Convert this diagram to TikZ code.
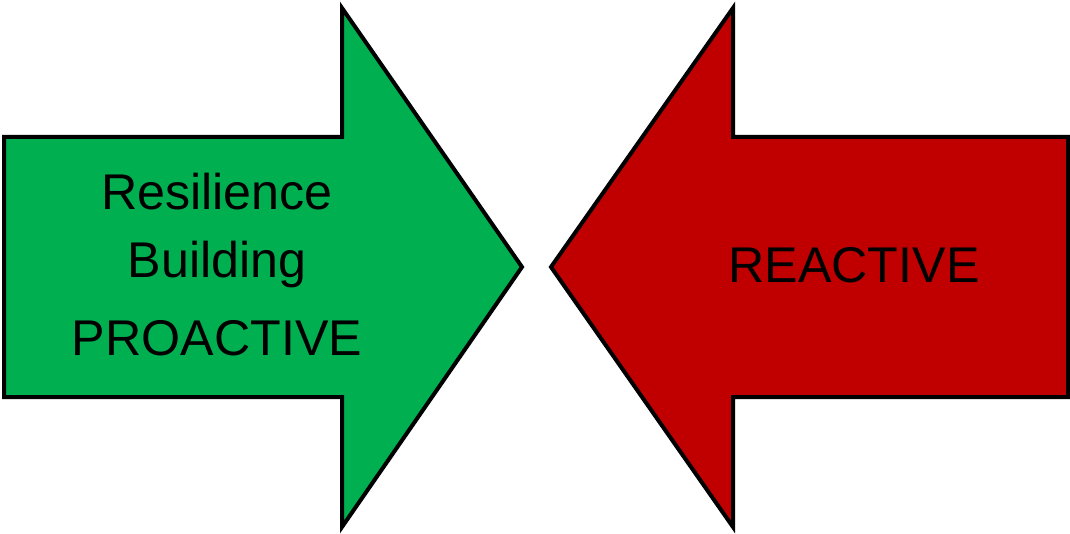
\documentclass[tikz,border=0pt]{standalone}
\usepackage{fontspec}
\setmainfont{Liberation Sans}
\definecolor{arrgreen}{HTML}{00B050}
\definecolor{arrred}{HTML}{C00000}
\begin{document}
\begin{tikzpicture}[x=1pt,y=-1pt,
  arrowshape/.style={draw=black,line width=4pt,line join=miter},
  lbl/.style={font=\fontsize{50.2}{73}\selectfont,align=center,text=black,inner sep=0pt}]
\useasboundingbox (0,0) rectangle (1070,534);
\draw[arrowshape,fill=arrgreen] (4,137) -- (342,137) -- (342,8) -- (522,267) -- (342,527) -- (342,397) -- (4,397) -- cycle;
\draw[arrowshape,fill=arrred] (1068,137) -- (733,137) -- (733,8) -- (551,267) -- (733,527) -- (733,397) -- (1068,397) -- cycle;
\node[lbl] (g1) at (217,192) {Resilience};
\node[lbl] (g2) at (217,265) {Building};
\node[lbl] (g3) at (217,338) {PROACTIVE};
\node[lbl] (r1) at (854,265) {REACTIVE};
\end{tikzpicture}
\end{document}
